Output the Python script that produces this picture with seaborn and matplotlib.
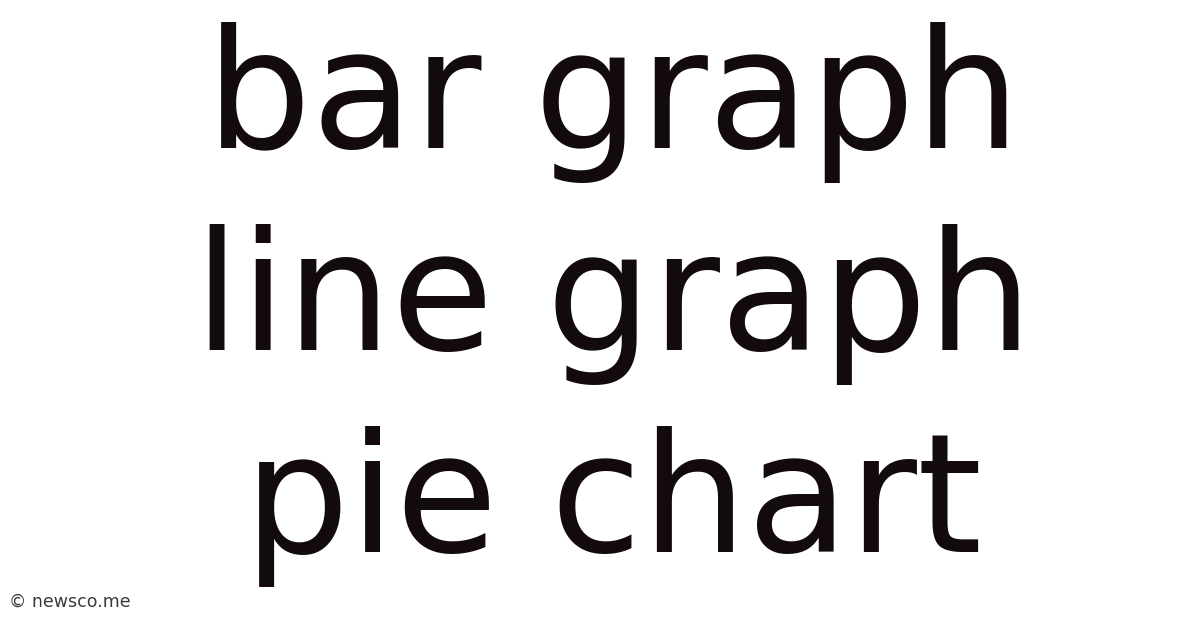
import matplotlib
matplotlib.use("Agg")
import matplotlib.pyplot as plt
import seaborn as sns

lines = ["bar graph", "line graph", "pie chart"]
baselines = [148, 350, 552]  # pixels from top
credit = "© newsco.me"

sns.set_theme(style="white")
plt.rcParams["font.family"] = ["DejaVu Sans"]

W, H = 1200, 628
fig = plt.figure(figsize=(W / 100, H / 100), dpi=100)
fig.patch.set_facecolor("white")

for txt, yb in zip(lines, baselines):
    fig.text(
        613 / W, 1 - yb / H, txt,
        ha="center", va="baseline",
        fontsize=119.5, color="#130b0b",
    )

fig.text(9 / W, 1 - 607 / H, credit, ha="left", va="baseline",
         fontsize=12.5, color="#3a3a3a")

fig.savefig("out.png", dpi=100, facecolor="white")
